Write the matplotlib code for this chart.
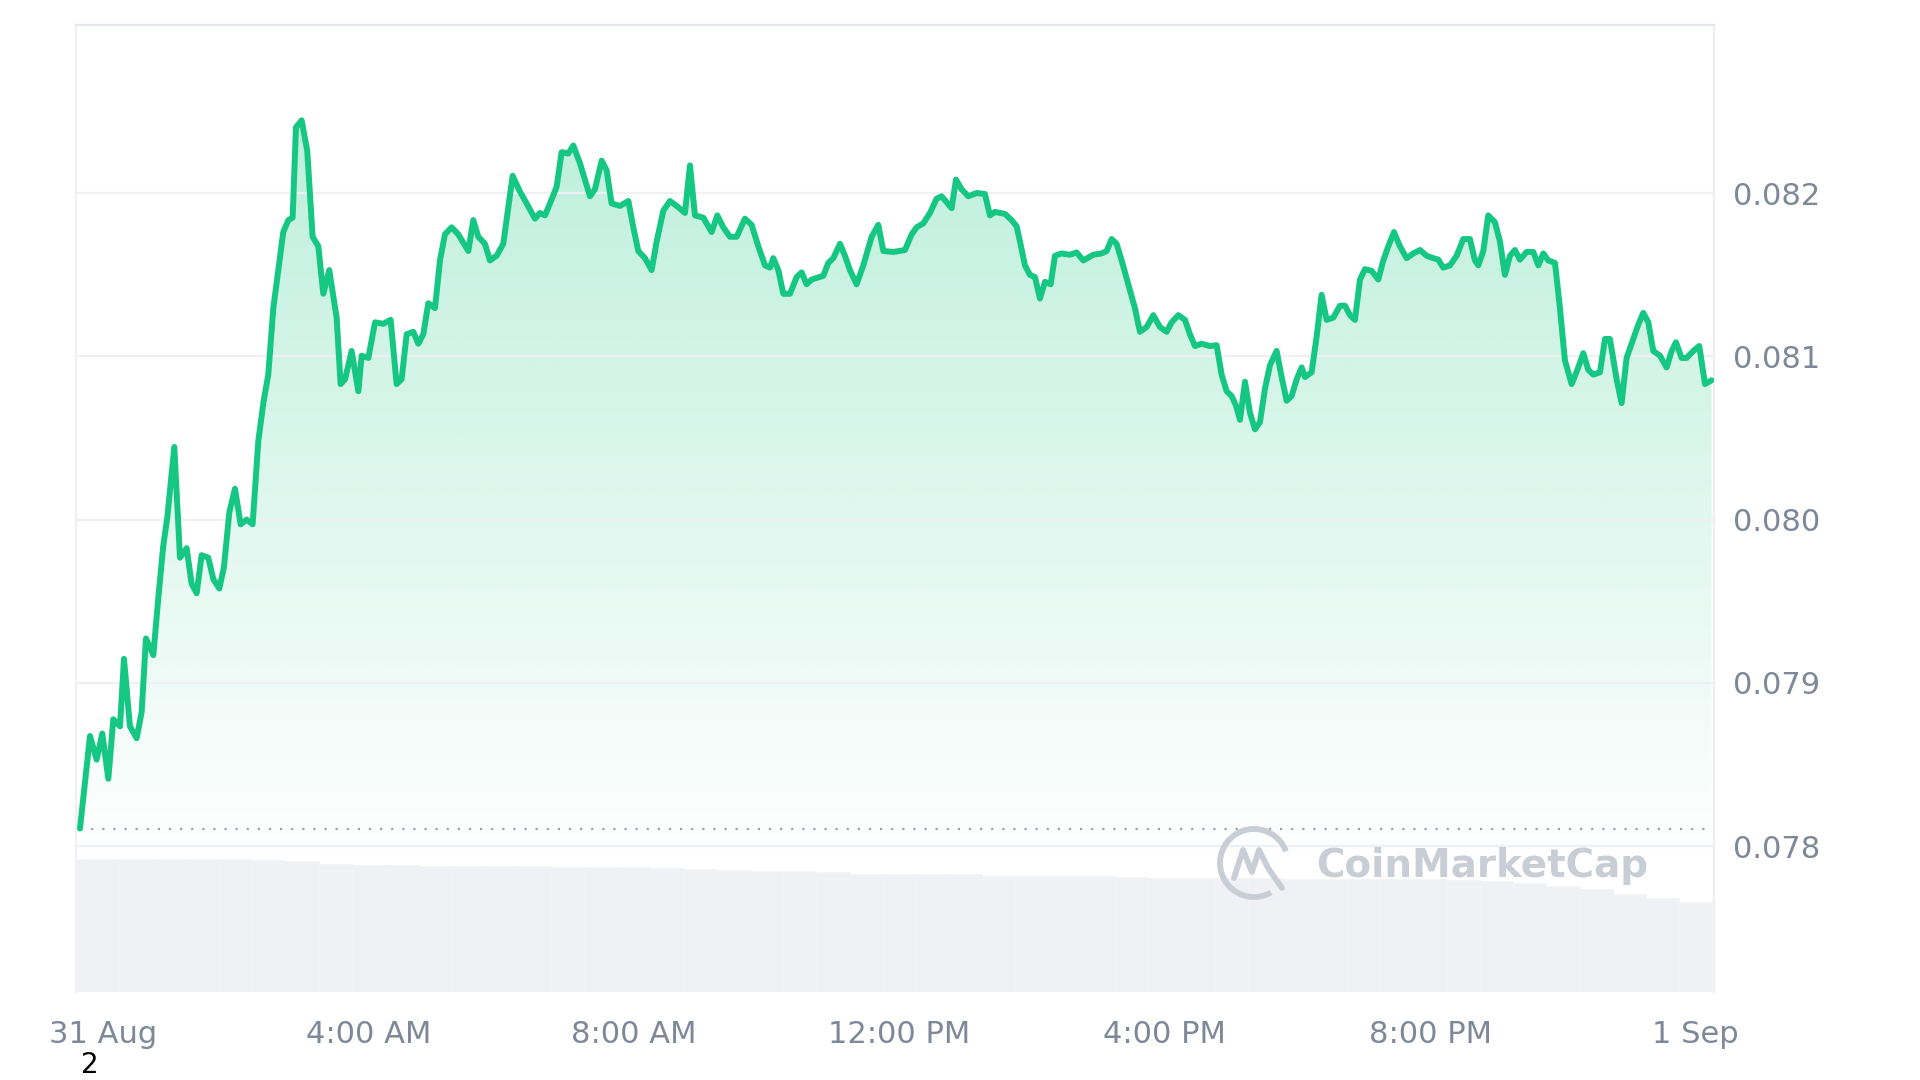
import numpy as np
import matplotlib
matplotlib.use("Agg")
import matplotlib.pyplot as plt
from matplotlib.patches import Arc
from matplotlib.colors import to_rgb

plt.rcParams['font.family'] = ['DejaVu Sans']

# ---------------- data ----------------
# hours since 31 Aug 00:00
hours = [
    -0.345, -0.194, -0.094, -0.009, 0.082, 0.157, 0.258, 0.318, 0.408, 0.509,
    0.584, 0.649, 0.760, 0.835, 0.910, 0.971, 1.076, 1.162, 1.262, 1.337,
    1.413, 1.488, 1.588, 1.664, 1.754, 1.824, 1.905, 1.990, 2.076, 2.166,
    2.256, 2.342, 2.417, 2.492, 2.568, 2.643, 2.718, 2.794, 2.859, 2.909,
    2.995, 3.080, 3.160, 3.246, 3.321, 3.411, 3.522, 3.582,
    3.648, 3.748, 3.849, 3.899, 4.000, 4.100, 4.225, 4.336, 4.426, 4.501,
    4.577, 4.677, 4.753, 4.828, 4.903, 5.004, 5.079, 5.154, 5.255, 5.355,
    5.506, 5.581, 5.657, 5.757, 5.832, 5.933, 6.033, 6.174, 6.284, 6.385,
    6.510, 6.586, 6.661, 6.736, 6.837, 6.912, 7.013, 7.088, 7.188, 7.339,
    7.414, 7.515, 7.590, 7.665,
    7.791, 7.917, 7.992, 8.067, 8.168, 8.268, 8.344, 8.444, 8.544, 8.645,
    8.770, 8.846, 8.921, 9.047, 9.172, 9.258, 9.348, 9.448, 9.549, 9.674,
    9.775, 9.875, 9.976, 10.051, 10.101, 10.177, 10.252, 10.352, 10.453, 10.528,
    10.603, 10.679, 10.855, 10.930, 11.005, 11.106, 11.181, 11.256, 11.357, 11.457,
    11.583, 11.683, 11.759,
    11.909, 12.085, 12.186, 12.261, 12.361, 12.462, 12.562, 12.638, 12.788, 12.854,
    12.939, 13.039, 13.165, 13.290, 13.366, 13.441, 13.592, 13.692, 13.768, 13.818,
    13.893, 13.968, 14.044, 14.119, 14.195, 14.280, 14.345, 14.445, 14.571, 14.671,
    14.772, 14.922, 15.048, 15.124, 15.199, 15.274, 15.350, 15.450, 15.550, 15.626,
    15.726, 15.827,
    15.927, 16.028, 16.103, 16.204, 16.304, 16.379, 16.455, 16.555, 16.681, 16.781,
    16.856, 16.932, 17.007, 17.072, 17.133, 17.208, 17.283, 17.359, 17.434, 17.509,
    17.585, 17.685, 17.761, 17.836, 17.911, 17.987, 18.062, 18.112, 18.212, 18.288,
    18.363, 18.438, 18.539, 18.639, 18.715, 18.790, 18.865, 18.941, 19.016, 19.117,
    19.217, 19.292, 19.368, 19.453, 19.543, 19.644, 19.744, 19.845, 19.945,
    20.046, 20.121, 20.196, 20.297, 20.397, 20.498, 20.598, 20.673, 20.724, 20.799,
    20.874, 20.975, 21.050, 21.125, 21.201, 21.276, 21.351, 21.452, 21.552, 21.628,
    21.703, 21.778, 21.879, 21.954, 22.029, 22.130, 22.230, 22.306, 22.381, 22.456,
    22.557, 22.632, 22.707, 22.808, 22.883, 22.958, 23.059, 23.134, 23.210, 23.285,
    23.360, 23.461, 23.561, 23.637, 23.702, 23.787, 23.862, 23.963, 24.053, 24.139,
    24.239,
]

price = [
    0.078108, 0.078675, 0.078530, 0.078690, 0.078413, 0.078777, 0.078734, 0.079147, 0.078734, 0.078661,
    0.078821, 0.079272, 0.079170, 0.079520, 0.079840, 0.080015, 0.080445, 0.079767, 0.079825, 0.079607,
    0.079549, 0.079782, 0.079767, 0.079636, 0.079578, 0.079709, 0.080044, 0.080189, 0.079971, 0.080000,
    0.079971, 0.080480, 0.080713, 0.080888, 0.081295, 0.081528, 0.081761, 0.081834, 0.081849, 0.082402,
    0.082445, 0.082256, 0.081732, 0.081674, 0.081383, 0.081528, 0.081237, 0.080830,
    0.080859, 0.081033, 0.080786, 0.081004, 0.080990, 0.081208, 0.081199, 0.081223, 0.080830, 0.080859,
    0.081135, 0.081150, 0.081077, 0.081135, 0.081325, 0.081295, 0.081587, 0.081747, 0.081790, 0.081747,
    0.081645, 0.081834, 0.081732, 0.081689, 0.081587, 0.081616, 0.081689, 0.082105, 0.082009, 0.081936,
    0.081843, 0.081878, 0.081863, 0.081936, 0.082038, 0.082250, 0.082242, 0.082291, 0.082183, 0.081980,
    0.082023, 0.082198, 0.082140, 0.081936,
    0.081921, 0.081951, 0.081790, 0.081645, 0.081601, 0.081528, 0.081703, 0.081892, 0.081951, 0.081921,
    0.081878, 0.082169, 0.081863, 0.081849, 0.081761, 0.081863, 0.081790, 0.081732, 0.081732, 0.081843,
    0.081805, 0.081674, 0.081557, 0.081543, 0.081601, 0.081528, 0.081383, 0.081383, 0.081485, 0.081514,
    0.081441, 0.081470, 0.081493, 0.081572, 0.081601, 0.081689, 0.081616, 0.081528, 0.081441, 0.081557,
    0.081732, 0.081805, 0.081645,
    0.081639, 0.081651, 0.081747, 0.081790, 0.081814, 0.081878, 0.081965, 0.081980, 0.081907, 0.082082,
    0.082023, 0.081980, 0.082000, 0.081994, 0.081863, 0.081884, 0.081872, 0.081834, 0.081796, 0.081703,
    0.081557, 0.081499, 0.081485, 0.081354, 0.081456, 0.081441, 0.081616, 0.081630, 0.081622, 0.081636,
    0.081587, 0.081622, 0.081630, 0.081645, 0.081718, 0.081689, 0.081587, 0.081441, 0.081295, 0.081150,
    0.081179, 0.081252,
    0.081179, 0.081150, 0.081208, 0.081252, 0.081223, 0.081135, 0.081063, 0.081077, 0.081063, 0.081068,
    0.080888, 0.080786, 0.080757, 0.080699, 0.080611, 0.080844, 0.080655, 0.080553, 0.080597, 0.080801,
    0.080946, 0.081033, 0.080873, 0.080728, 0.080757, 0.080859, 0.080932, 0.080873, 0.080902, 0.081121,
    0.081377, 0.081223, 0.081237, 0.081310, 0.081310, 0.081252, 0.081223, 0.081470, 0.081534, 0.081523,
    0.081470, 0.081587, 0.081674, 0.081761, 0.081674, 0.081601, 0.081630, 0.081651, 0.081616,
    0.081601, 0.081592, 0.081543, 0.081557, 0.081616, 0.081718, 0.081718, 0.081587, 0.081557, 0.081645,
    0.081863, 0.081820, 0.081703, 0.081499, 0.081616, 0.081651, 0.081592, 0.081639, 0.081639, 0.081557,
    0.081630, 0.081587, 0.081572, 0.081295, 0.080975, 0.080830, 0.080932, 0.081019, 0.080917, 0.080888,
    0.080902, 0.081106, 0.081106, 0.080859, 0.080713, 0.080990, 0.081106, 0.081194, 0.081266, 0.081208,
    0.081033, 0.081004, 0.080932, 0.081033, 0.081086, 0.080990, 0.080990, 0.081033, 0.081063, 0.080830,
    0.080853,
]

# rolling 24h volume (arbitrary units) every half hour from -0.5h to 24h
vol_hours = [i * 0.5 - 0.5 for i in range(50)]
volume = [13.6,
          13.6, 13.6, 13.6, 13.6, 13.6, 13.5, 13.4, 13.1, 13.0, 13.0,
          12.9, 12.9, 12.9, 12.9, 12.8, 12.8, 12.8, 12.7, 12.6, 12.5,
          12.3, 12.3, 12.2, 12.0, 12.0, 12.0, 12.0, 11.8, 11.8, 11.8,
          11.8, 11.7, 11.6, 11.6, 11.6, 11.6, 11.5, 11.5, 11.5, 11.5,
          11.5, 11.4, 11.3, 11.1, 10.8, 10.5, 10.0, 9.6, 9.2]

x_ticks = [0, 4, 8, 12, 16, 20, 24]
x_labels = ["31 Aug", "4:00 AM", "8:00 AM", "12:00 PM", "4:00 PM", "8:00 PM", "1 Sep"]
y_ticks = [0.078, 0.079, 0.080, 0.081, 0.082]
y_labels = ["0.078", "0.079", "0.080", "0.081", "0.082"]

# ---------------- style ----------------
GREEN = "#16c784"
TXT = "#7f8899"
GRID = "#eef0f3"
VOLC = "#eff1f5"

XMIN, XMAX = -0.405, 24.275
YMIN, YMAX = 0.077107, 0.083032

fig = plt.figure(figsize=(19.2, 10.8), dpi=100)
fig.patch.set_facecolor("white")
pos = [76 / 1920, 88 / 1080, (1714 - 76) / 1920, (1055.5 - 88) / 1080]

ax = fig.add_axes(pos)
ax.set_xlim(XMIN, XMAX)
ax.set_ylim(YMIN, YMAX)
ax.set_facecolor("white")

# gradient fill under price line
h = np.array(hours)
p = np.array(price)
base = price[0]
ny = 400
yy = np.linspace(YMAX, YMIN, ny)
alpha = np.clip((yy - 0.07788) / (YMAX - 0.07788), 0, 1) * 0.32
rgba = np.zeros((ny, 2, 4))
rgba[..., :3] = to_rgb(GREEN)
rgba[..., 3] = alpha[:, None]
poly = ax.fill_between(h, p, YMIN, color="none", lw=0)
img = ax.imshow(rgba, extent=[XMIN, XMAX, YMIN, YMAX], aspect="auto",
                origin="upper", zorder=0.2, interpolation="bilinear")
img.set_clip_path(poly.get_paths()[0], transform=ax.transData)

ax.set_axisbelow(True)
ax.grid(axis="y", color=GRID, lw=1.6)
ax.grid(axis="x", visible=False)

# baseline (open price)
ax.plot([h[0], h[-1]], [base, base], color="#9aa2b0", lw=1.6,
        linestyle=(0, (1, 4)), zorder=1)

# price line
ax.plot(h, p, color=GREEN, lw=4.3, solid_joinstyle="round",
        solid_capstyle="round", zorder=3)

ax.set_yticks(y_ticks)
ax.set_yticklabels(y_labels)
ax.yaxis.tick_right()
ax.tick_params(axis="y", length=0, pad=14, labelsize=22, labelcolor=TXT)
ax.set_xticks(x_ticks)
ax.set_xticklabels(x_labels)
ax.tick_params(axis="x", length=0, pad=20, labelsize=22, labelcolor=TXT)

ax.spines["top"].set_color("#e3e6ea")
ax.spines["top"].set_linewidth(1.6)
for s in ["left", "right"]:
    ax.spines[s].set_color("#eef0f3")
    ax.spines[s].set_linewidth(1.6)
ax.spines["bottom"].set_visible(False)

# volume axes overlay
vax = fig.add_axes(pos, sharex=ax)
vax.patch.set_alpha(0)
vax.set_ylim(0, 98.75)
vax.bar(vol_hours, volume, width=0.5, color=VOLC, edgecolor="#f3f4f7",
        linewidth=0.6, zorder=1)
vax.set_xlim(XMIN, XMAX)
vax.axis("off")

# watermark (logo + text) in pixel overlay
ov = fig.add_axes([0, 0, 1, 1])
ov.set_xlim(0, 1920)
ov.set_ylim(1080, 0)
ov.axis("off")
ov.patch.set_alpha(0)
WM = "#c9cdd5"
ov.add_patch(Arc((1254, 863), 68, 68, theta1=60, theta2=340, color=WM, lw=4.2))
ov.plot([1234, 1243, 1252, 1259, 1268, 1282],
        [878, 850, 872, 850, 868, 888], color=WM, lw=4.2,
        solid_joinstyle="round", solid_capstyle="round")
ov.text(1316, 866, "CoinMarketCap", fontsize=28, fontweight="bold",
        color=WM, ha="left", va="center")
ov.text(90, 1065, "2", fontsize=20, color="black", ha="center", va="center")

fig.savefig("out.png", dpi=100, facecolor="white")
